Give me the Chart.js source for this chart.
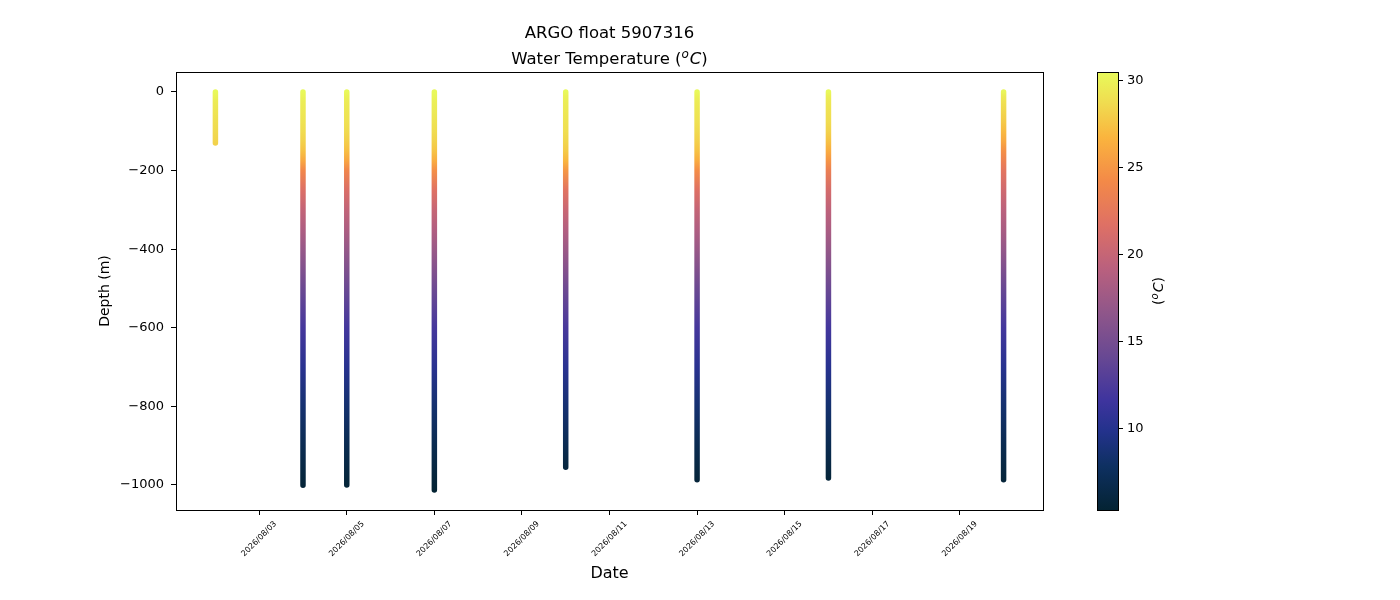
<!DOCTYPE html>
<html>
<head>
<meta charset="utf-8">
<script src="https://cdn.jsdelivr.net/npm/chart.js@4.4.1/dist/chart.umd.min.js"></script>
<style>
html, body { margin: 0; padding: 0; background: #fff; }
</style>
</head>
<body>
<canvas id="graph" width="1400" height="600"></canvas>
<script>
// profile dates (one vertical cast each)
var profileDates = ["2026/08/02", "2026/08/04", "2026/08/05", "2026/08/07",
  "2026/08/10", "2026/08/13", "2026/08/16", "2026/08/20"];

// depth levels (m) read along each cast, bottom of each cast listed separately
var depthLevels = [0, -10, -25, -50, -75, -100, -125, -150, -175, -200,
  -250, -300, -350, -400, -500, -600, -700, -800, -900];
var bottomDepths = [-130, -1001, -1000, -1013, -955, -987, -982, -987];

// temperature (C) at each level + at the bottom
var tempProfiles = [
  [30.4, 30.1, 29.6, 29.2, 28.9, 28.6, 28.3, 28.2],
  [30.4, 30.1, 29.7, 29.4, 29.1, 28.7, 28.2, 27.4, 26.0, 24.0, 21.5, 19.8, 18.5, 17.1, 14.3, 12.0, 10.2, 8.5, 7.0, 5.6],
  [30.4, 30.0, 29.6, 29.3, 29.0, 28.6, 28.0, 27.2, 25.8, 23.8, 21.4, 19.7, 18.4, 17.0, 14.2, 11.9, 10.1, 8.4, 6.9, 5.6],
  [30.4, 30.2, 29.8, 29.5, 29.1, 28.7, 28.2, 27.5, 26.3, 24.5, 21.8, 20.0, 18.7, 17.3, 14.4, 12.0, 10.2, 8.4, 6.8, 5.3],
  [30.4, 30.0, 29.7, 29.4, 29.1, 28.8, 28.4, 27.8, 26.8, 25.0, 22.0, 20.2, 18.8, 17.4, 14.5, 12.2, 10.3, 8.6, 7.0, 6.0],
  [30.4, 30.0, 29.6, 29.3, 29.0, 28.6, 28.1, 27.4, 26.2, 24.4, 21.7, 19.9, 18.6, 17.2, 14.3, 12.0, 10.2, 8.5, 6.9, 5.7],
  [30.4, 29.8, 29.4, 29.0, 28.7, 28.2, 27.4, 26.2, 24.8, 23.2, 21.0, 19.5, 18.3, 17.0, 14.2, 11.9, 10.1, 8.4, 6.9, 5.7],
  [30.2, 29.6, 29.0, 28.4, 27.8, 27.0, 26.0, 24.6, 23.4, 22.2, 20.6, 19.3, 18.2, 16.9, 14.1, 11.9, 10.1, 8.4, 6.9, 5.7]
];

var yTickValues = [0, -200, -400, -600, -800, -1000];
var xTickDates = ["2026/08/03", "2026/08/05", "2026/08/07", "2026/08/09",
  "2026/08/11", "2026/08/13", "2026/08/15", "2026/08/17", "2026/08/19"];
var cbarTickValues = [10, 15, 20, 25, 30];
var tempMin = 5.29, tempMax = 30.46;

// thermal-like colormap
var thermalStops = [
  [0.00, 4, 35, 51], [0.10, 14, 48, 97], [0.18, 35, 50, 140], [0.25, 62, 52, 158],
  [0.35, 104, 72, 147], [0.45, 143, 86, 138], [0.55, 185, 96, 126], [0.65, 222, 112, 101],
  [0.75, 243, 137, 72], [0.85, 250, 180, 62], [0.93, 240, 220, 80], [1.00, 232, 250, 90]
];

var FONT = '"DejaVu Sans", sans-serif';

function thermalAt(t) {
  t = Math.max(0, Math.min(1, t));
  for (var i = 1; i < thermalStops.length; i++) {
    var a = thermalStops[i - 1], b = thermalStops[i];
    if (t <= b[0]) {
      var f = (t - a[0]) / (b[0] - a[0]);
      return 'rgb(' + Math.round(a[1] + f * (b[1] - a[1])) + ',' +
        Math.round(a[2] + f * (b[2] - a[2])) + ',' +
        Math.round(a[3] + f * (b[3] - a[3])) + ')';
    }
  }
  return 'rgb(232,250,90)';
}
function tempColor(v) { return thermalAt((v - tempMin) / (tempMax - tempMin)); }

function dayValue(s) {
  var p = s.split('/');
  return Date.UTC(+p[0], +p[1] - 1, +p[2]) / 86400000;
}
function dayLabel(d) {
  var dt = new Date(Math.round(d) * 86400000);
  var m = dt.getUTCMonth() + 1, dd = dt.getUTCDate();
  return dt.getUTCFullYear() + '/' + (m < 10 ? '0' : '') + m + '/' + (dd < 10 ? '0' : '') + dd;
}

function castDepths(i) {
  return depthLevels.filter(function (z) { return z > bottomDepths[i]; }).concat([bottomDepths[i]]);
}

function castGradient(ctx, i) {
  var chart = ctx.chart;
  if (!chart.chartArea) return 'rgba(0,0,0,0)';
  var ys = chart.scales.y;
  var depths = castDepths(i), temps = tempProfiles[i];
  var y0 = ys.getPixelForValue(depths[0]);
  var y1 = ys.getPixelForValue(depths[depths.length - 1]);
  var g = chart.ctx.createLinearGradient(0, y0, 0, y1);
  depths.forEach(function (z, k) {
    g.addColorStop((ys.getPixelForValue(z) - y0) / (y1 - y0), tempColor(temps[k]));
  });
  return g;
}

var datasets = profileDates.map(function (d, i) {
  return {
    data: castDepths(i).map(function (z) { return { x: dayValue(d), y: z }; }),
    showLine: true,
    pointRadius: 0,
    borderWidth: 5.5,
    borderCapStyle: 'round',
    borderColor: function (ctx) { return castGradient(ctx, i); }
  };
});

// matplotlib style 5% margins
var xs = profileDates.map(dayValue);
var xLo = Math.min.apply(null, xs), xHi = Math.max.apply(null, xs);
var yLo = Math.min.apply(null, bottomDepths), yHi = 0;
var xPad = (xHi - xLo) * 0.05, yPad = (yHi - yLo) * 0.05;

function drawMathLabel(c, x, y, size, pre) {
  // pre + superscript italic o + italic C + ")"
  var big = size + 'px ' + FONT, ital = 'italic ' + size + 'px ' + FONT;
  var small = 'italic ' + Math.round(size * 0.7) + 'px ' + FONT;
  c.font = big; var w1 = c.measureText(pre).width;
  c.font = small; var w2 = c.measureText('o').width + 1;
  c.font = ital; var w3 = c.measureText('C').width;
  c.font = big; var w4 = c.measureText(')').width;
  var sx = x - (w1 + w2 + w3 + w4) / 2;
  c.textAlign = 'left'; c.textBaseline = 'alphabetic';
  var base = y + size * 0.36;
  c.font = big; c.fillText(pre, sx, base);
  c.font = small; c.fillText('o', sx + w1, base - size * 0.38);
  c.font = ital; c.fillText('C', sx + w1 + w2, base);
  c.font = big; c.fillText(')', sx + w1 + w2 + w3, base);
}

var decorations = {
  id: 'decorations',
  afterDraw: function (chart) {
    var c = chart.ctx, a = chart.chartArea, xsc = chart.scales.x;
    c.save();
    c.fillStyle = '#000';
    c.strokeStyle = '#000';
    c.lineWidth = 1;
    c.strokeRect(Math.round(a.left) + 0.5, Math.round(a.top) + 0.5,
      Math.round(a.right - a.left), Math.round(a.bottom - a.top));

    // rotated date labels, centred under ticks
    c.font = '8px ' + FONT;
    c.textAlign = 'center'; c.textBaseline = 'middle';
    xsc.ticks.forEach(function (t) {
      var px = xsc.getPixelForValue(t.value);
      c.save();
      c.translate(px, a.bottom + 29);
      c.rotate(-Math.PI / 4);
      c.fillText(dayLabel(t.value), 0, 0);
      c.restore();
    });

    var cx = (a.left + a.right) / 2;
    c.font = '16px ' + FONT;
    c.fillText('Date', cx, a.bottom + 64);

    c.save();
    c.translate(105, (a.top + a.bottom) / 2);
    c.rotate(-Math.PI / 2);
    c.font = '14px ' + FONT;
    c.fillText('Depth (m)', 0, 0);
    c.restore();

    c.font = '16.5px ' + FONT;
    c.fillText('ARGO float 5907316', cx, 34);
    drawMathLabel(c, cx, 58, 16.5, 'Water Temperature (');

    // colorbar
    var bx = 1097, bw = 21, top = a.top, bot = a.bottom;
    var g = c.createLinearGradient(0, bot, 0, top);
    thermalStops.forEach(function (s) {
      g.addColorStop(s[0], 'rgb(' + s[1] + ',' + s[2] + ',' + s[3] + ')');
    });
    c.fillStyle = g;
    c.fillRect(bx, top, bw, bot - top);
    c.strokeRect(bx + 0.5, top + 0.5, bw, Math.round(bot - top));
    c.fillStyle = '#000';
    c.font = '13px ' + FONT;
    c.textAlign = 'left'; c.textBaseline = 'middle';
    cbarTickValues.forEach(function (v) {
      var py = Math.round(bot - (v - tempMin) / (tempMax - tempMin) * (bot - top)) + 0.5;
      c.beginPath(); c.moveTo(bx + bw, py); c.lineTo(bx + bw + 5, py); c.stroke();
      c.fillText(String(v), bx + bw + 9, py);
    });
    c.save();
    c.translate(1158, (top + bot) / 2);
    c.rotate(-Math.PI / 2);
    drawMathLabel(c, 0, 0, 14, '(');
    c.restore();

    c.restore();
  }
};

var ctx = document.getElementById("graph").getContext('2d');

var argoChart = new Chart(ctx, {
  type: 'scatter',
  data: { datasets: datasets },
  options: {
    responsive: false,
    animation: false,
    layout: { padding: { top: 72, right: 357, left: 0, bottom: 0 } },
    plugins: { legend: { display: false }, tooltip: { enabled: false } },
    scales: {
      x: {
        type: 'linear',
        min: xLo - xPad, max: xHi + xPad,
        border: { display: false },
        grid: { drawOnChartArea: false, tickLength: 5, color: '#000' },
        ticks: { display: false },
        afterBuildTicks: function (s) {
          s.ticks = xTickDates.map(function (d) { return { value: dayValue(d) }; });
        },
        afterFit: function (s) { s.height = 90; }
      },
      y: {
        type: 'linear',
        min: yLo - yPad, max: yHi + yPad,
        border: { display: false },
        grid: { drawOnChartArea: false, tickLength: 5, color: '#000' },
        ticks: {
          color: '#000', padding: 7,
          font: { family: FONT, size: 13 },
          callback: function (v) { return String(v).replace('-', '\u2212'); }
        },
        afterBuildTicks: function (s) {
          s.ticks = yTickValues.map(function (v) { return { value: v }; });
        },
        afterFit: function (s) { s.width = 176; }
      }
    }
  },
  plugins: [decorations]
});
</script>
</body>
</html>
